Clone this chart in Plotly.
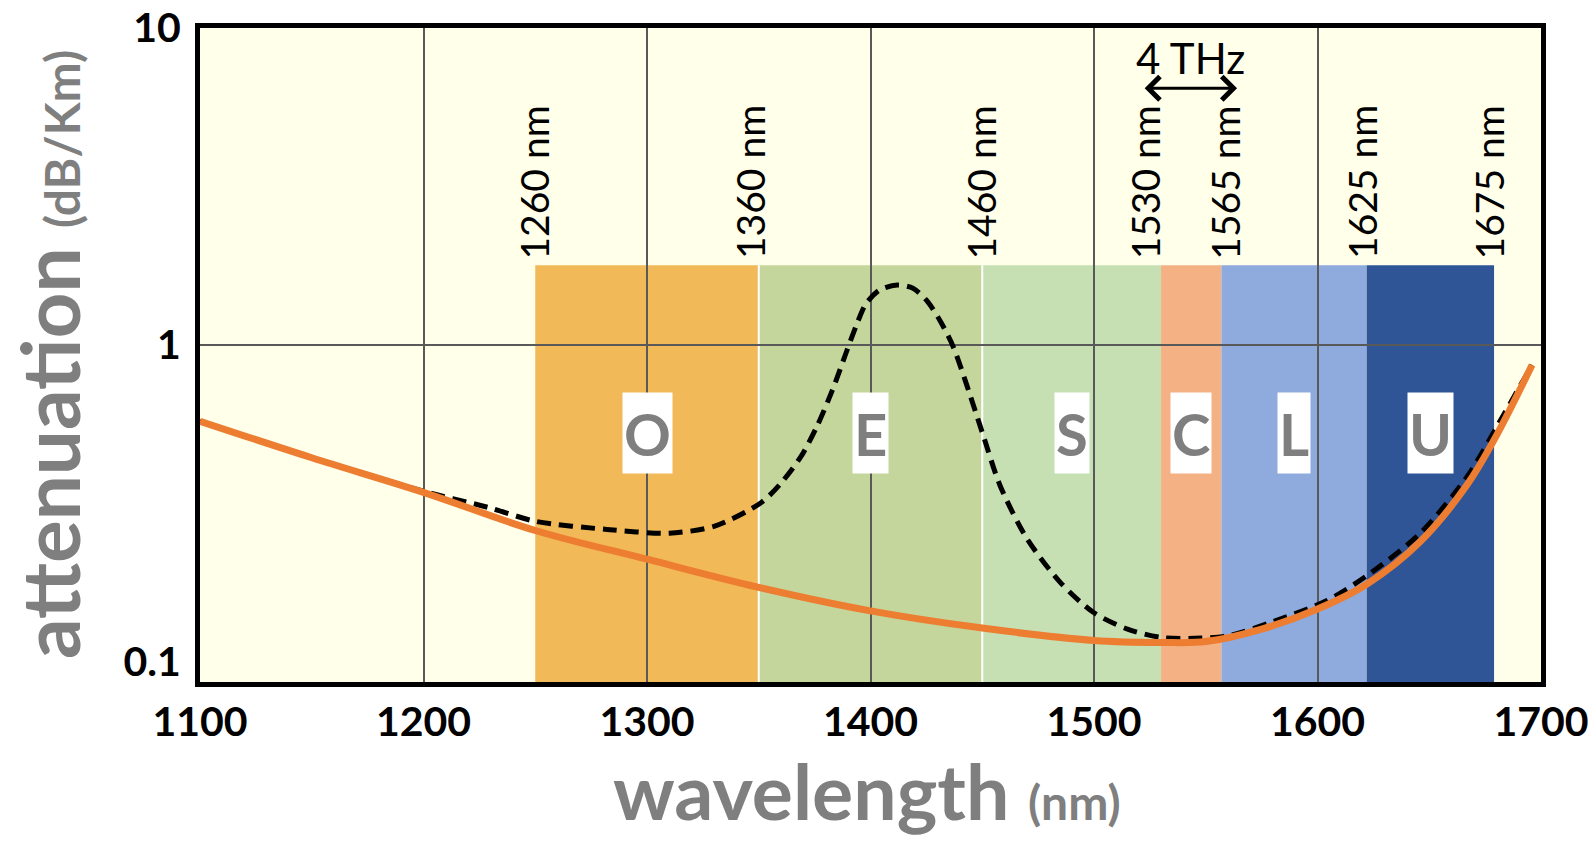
import math
import plotly.graph_objects as go

# ---------------- data ----------------
# intrinsic (low-water-peak) fibre attenuation, dB/km
ideal_nm = [1100, 1150, 1200, 1250, 1300, 1350, 1400, 1450, 1500, 1530, 1550,
            1575, 1600, 1622, 1646, 1667, 1679, 1696]
ideal_att = [0.575, 0.441, 0.343, 0.260, 0.211, 0.172, 0.145, 0.128, 0.117, 0.1153,
             0.116, 0.127, 0.147, 0.176, 0.240, 0.363, 0.502, 0.865]

# attenuation with OH (water) absorption peak, dB/km
water_nm = [1100, 1150, 1200, 1230, 1250, 1282, 1310, 1330, 1351, 1360, 1369, 1376,
            1383, 1389, 1394, 1398, 1404, 1412, 1419, 1425, 1431, 1437, 1443, 1450,
            1458, 1470, 1485, 1500, 1515, 1530, 1545, 1560, 1580, 1604, 1622, 1646,
            1667, 1684, 1696]
water_att = [0.575, 0.441, 0.346, 0.306, 0.278, 0.262, 0.255, 0.268, 0.318, 0.367,
             0.446, 0.553, 0.722, 0.942, 1.17, 1.35, 1.49, 1.545, 1.51, 1.385, 1.198,
             0.988, 0.75, 0.53, 0.36, 0.245, 0.178, 0.143, 0.127, 0.1196, 0.1188,
             0.121, 0.134, 0.156, 0.187, 0.255, 0.385, 0.615, 0.865]

band_names = ["O", "E", "S", "C", "L", "U"]
band_start = [1250, 1350, 1450, 1530, 1557, 1622]
band_end = [1350, 1450, 1530, 1557, 1622, 1679]
band_colors = ["#F1B957", "#C4D69B", "#C6E0B4", "#F4B183", "#8FAADC", "#2F5597"]
band_top = 1.786  # dB/km

edge_labels = ["1260 nm", "1360 nm", "1460 nm", "1530 nm", "1565 nm", "1625 nm", "1675 nm"]

x_ticks = [1100, 1200, 1300, 1400, 1500, 1600, 1700]
y_ticks = [0.1, 1, 10]
y_tick_text = ["0.1", "1", "10"]

thz_from, thz_to = 1522, 1564
thz_label = "4 THz"

# ---------------- styling / layout ----------------
FONT = "Lato"
GRID = "#595959"
GREY_TXT = "#7F7F7F"
YLO, YHI = -1.063, 1.0


def ypaper(v):
    return (math.log10(v) - YLO) / (YHI - YLO)


fig = go.Figure()

fig.add_trace(go.Scatter(
    x=water_nm, y=water_att, mode="lines", hoverinfo="skip", showlegend=False,
    line=dict(color="black", width=5, dash="14px,8px", shape="spline", smoothing=0.8),
))
fig.add_trace(go.Scatter(
    x=ideal_nm, y=ideal_att, mode="lines", hoverinfo="skip", showlegend=False,
    line=dict(color="#ED7D31", width=7, shape="spline", smoothing=1.0),
))

shapes = [dict(type="rect", xref="paper", yref="paper", x0=0, x1=1, y0=0, y1=1,
               fillcolor="#FFFFEA", line=dict(width=0), layer="below")]
for s, e, c in zip(band_start, band_end, band_colors):
    shapes.append(dict(type="rect", xref="x", yref="paper", x0=s, x1=e, y0=0,
                       y1=ypaper(band_top), fillcolor=c, line=dict(width=0), layer="below"))
for s in band_start[1:3]:
    shapes.append(dict(type="line", xref="x", yref="paper", x0=s, x1=s, y0=0,
                       y1=ypaper(band_top), line=dict(color="white", width=2), layer="below"))
shapes.append(dict(type="line", xref="paper", yref="paper", x0=0, x1=1, y0=ypaper(1),
                   y1=ypaper(1), line=dict(color=GRID, width=2), layer="below"))

annotations = []
# band letters
for n, s, e in zip(band_names, band_start, band_end):
    annotations.append(dict(
        x=(s + e) / 2, y=-0.277, xref="x", yref="y", text=n, showarrow=False,
        font=dict(family=FONT, size=58, color=GREY_TXT, weight="bold"),
        bgcolor="white", height=78, borderpad=1, xanchor="center", yanchor="middle"))

# band edge wavelength labels
edges = band_start + [band_end[-1]]
xshifts = [-1, -8, -1, -16, 4, -4, -5]
for lab, ed, xs in zip(edge_labels, edges, xshifts):
    annotations.append(dict(
        x=ed, y=0.264, xref="x", yref="y", text=lab, showarrow=False, textangle=-90,
        font=dict(family=FONT, size=39, color="black"), xanchor="center",
        yanchor="bottom", xshift=xs))

# 4 THz arrow
annotations.append(dict(
    x=thz_to, y=0.81, ax=thz_from, ay=0.81, xref="x", yref="y", axref="x", ayref="y",
    text="", showarrow=True, arrowhead=4, startarrowhead=4, arrowside="end+start",
    arrowsize=1.5, startarrowsize=1.5, arrowwidth=3, arrowcolor="black",
    standoff=0, startstandoff=0))
annotations.append(dict(
    x=(thz_from + thz_to) / 2, y=0.905, xref="x", yref="y", text=thz_label,
    showarrow=False, font=dict(family=FONT, size=42, color="black"),
    xanchor="center", yanchor="middle"))

# axis titles
annotations.append(dict(
    x=0.5, y=0, xref="paper", yref="paper", yshift=-60, xshift=-4,
    xanchor="center", yanchor="top",
    text="wavelength <span style='font-size:48px'>(nm)</span>", showarrow=False,
    font=dict(family=FONT, size=77, color=GREY_TXT, weight="bold")))
annotations.append(dict(
    x=0, y=0.5, xref="paper", yref="paper", xshift=-151, xanchor="center", yanchor="middle",
    textangle=-90, text="attenuation <span style='font-size:48px'>(dB/Km)</span>",
    showarrow=False, font=dict(family=FONT, size=80, color=GREY_TXT, weight="bold")))

fig.update_layout(
    width=1593, height=842,
    margin=dict(l=200, r=52, t=28, b=160, autoexpand=False),
    paper_bgcolor="white", plot_bgcolor="rgba(0,0,0,0)",
    shapes=shapes, annotations=annotations, showlegend=False,
    xaxis=dict(range=[1100, 1700], tickvals=x_ticks, ticktext=[str(v) for v in x_ticks],
               showgrid=True, gridcolor=GRID, gridwidth=2, zeroline=False,
               showline=True, linecolor="black", linewidth=5, mirror=True,
               ticks="", automargin=False,
               tickfont=dict(family=FONT, size=41, color="black", weight="bold")),
    yaxis=dict(type="log", range=[YLO, YHI], tickvals=y_ticks, ticktext=y_tick_text,
               showgrid=False, zeroline=False, showline=True, linecolor="black",
               linewidth=5, mirror=True, ticks="", ticklabelstandoff=6, automargin=False,
               tickfont=dict(family=FONT, size=41, color="black", weight="bold")),
)

fig.write_html("out.html", config={"displayModeBar": False},
               post_script="document.body.style.margin='0';document.body.style.overflow='hidden';")
